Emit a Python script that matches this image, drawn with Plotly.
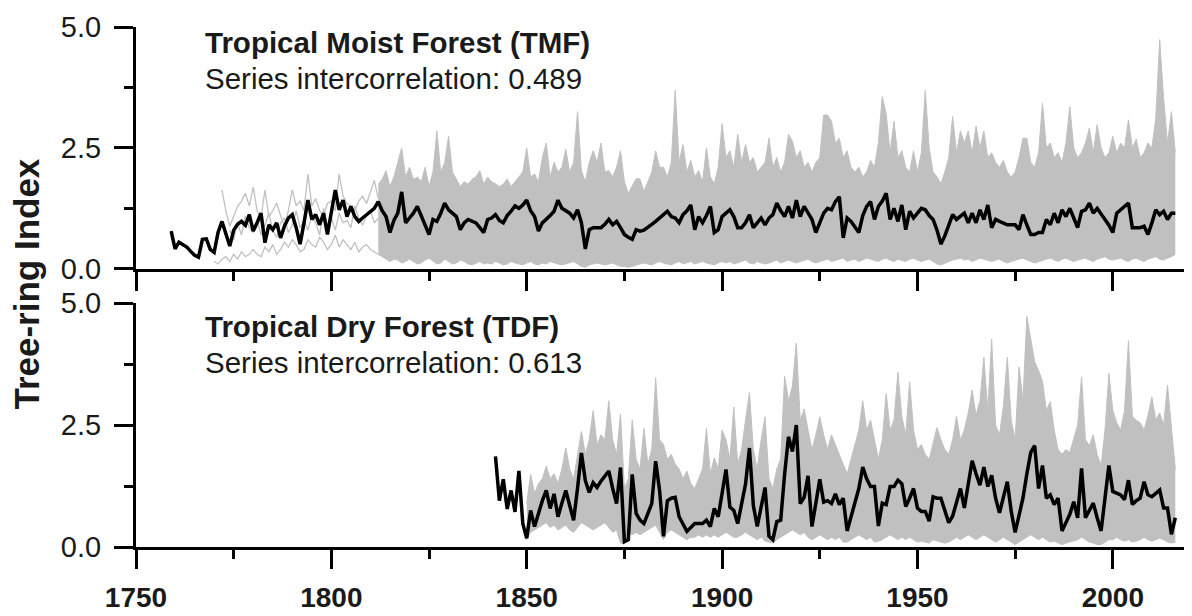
import plotly.graph_objects as go

# ---------------- data ----------------
# Tropical Moist Forest (TMF) mean chronology, annual from 1759
tmf_start = 1759
tmf_mean = [
    0.78,
    0.41, 0.55, 0.50, 0.45, 0.36, 0.28, 0.24, 0.61, 0.62, 0.40,
    0.34, 0.75, 0.98, 0.70, 0.47, 0.80, 0.92, 0.98, 0.90, 1.12,
    0.78, 0.95, 1.15, 0.54, 0.91, 0.81, 0.95, 0.64, 0.88, 1.05,
    1.12, 0.85, 0.51, 0.95, 1.42, 1.02, 1.12, 0.91, 1.15, 0.71,
    1.19, 1.63, 1.22, 1.42, 1.08, 1.29, 1.08, 0.98, 1.05, 1.12,
    1.20, 1.25, 1.39, 1.20, 1.08, 0.75, 1.00, 1.15, 1.59, 0.95,
    1.05, 1.15, 1.29, 1.08, 0.90, 0.71, 1.02, 0.98, 1.15, 1.36,
    1.22, 1.15, 1.08, 0.81, 0.95, 1.02, 0.98, 0.95, 0.85, 0.75,
    1.02, 1.05, 1.12, 1.00, 0.95, 1.10, 1.19, 1.30, 1.25, 1.32,
    1.42, 1.20, 1.08, 0.78, 0.95, 1.02, 1.10, 1.19, 1.42, 1.25,
    1.20, 1.15, 1.05, 1.22, 0.95, 0.41, 0.81, 0.85, 0.85, 0.85,
    0.92, 1.02, 0.91, 0.98, 0.85, 0.71, 0.65, 0.61, 0.81, 0.78,
    0.80, 0.85, 0.92, 0.98, 1.05, 1.12, 1.19, 1.08, 1.05, 0.95,
    1.12, 1.20, 1.32, 0.81, 1.08, 0.95, 1.10, 1.29, 0.75, 0.81,
    1.08, 1.15, 1.22, 1.08, 0.85, 0.85, 0.95, 1.12, 0.85, 0.95,
    1.05, 0.91, 1.05, 1.12, 1.36, 1.20, 1.08, 1.29, 1.05, 1.42,
    1.08, 1.29, 1.15, 1.02, 0.75, 0.95, 1.15, 1.25, 1.22, 1.39,
    1.49, 0.64, 1.05, 0.98, 0.85, 0.75, 1.10, 1.29, 1.39, 1.02,
    1.29, 1.40, 1.56, 1.02, 1.25, 0.98, 1.32, 0.81, 1.19, 1.05,
    1.15, 1.25, 1.22, 1.10, 1.02, 0.80, 0.51, 0.68, 0.90, 1.12,
    1.02, 1.08, 1.15, 0.95, 1.15, 0.95, 1.22, 1.02, 1.32, 0.85,
    1.02, 0.98, 0.95, 0.91, 0.91, 0.91, 0.81, 1.12, 0.91, 0.71,
    0.71, 0.75, 0.75, 1.02, 0.91, 1.15, 0.95, 1.22, 1.08, 1.25,
    1.05, 0.85, 1.19, 1.22, 1.36, 1.15, 1.25, 1.12, 1.02, 0.90,
    0.75, 1.15, 1.22, 1.30, 1.36, 0.85, 0.85, 0.85, 0.88, 0.71,
    0.95, 1.22, 1.12, 1.19, 1.02, 1.15, 1.15,
]

# TMF individual series: sparse early series
tmf_early_a_start = 1772
tmf_early_a = [
    1.63, 1.20, 0.88, 1.10, 1.29, 1.40, 1.56, 1.30, 1.69, 1.20,
    1.05, 1.63, 1.08, 1.20, 1.36, 1.10, 0.88, 1.20, 1.63, 1.30,
    1.40, 1.20, 1.96, 1.30, 1.45, 1.20, 1.10, 1.35, 1.40, 1.20,
    1.96, 1.50, 1.35, 1.30, 1.20, 1.40, 1.50, 1.35, 1.60, 1.83,
    1.45,
]
tmf_early_b_start = 1770
tmf_early_b = [
    0.15, 0.10, 0.20, 0.25, 0.15, 0.30, 0.20, 0.35, 0.25, 0.30,
    0.40, 0.30, 0.25, 0.45, 0.35, 0.50, 0.30, 0.40, 0.55, 0.45,
    0.60, 0.50, 0.35, 0.40, 0.60, 0.50, 0.45, 0.65, 0.55, 0.40,
    0.50, 0.70, 0.45, 0.60, 0.50, 0.40, 0.55, 0.35, 0.45, 0.50,
    0.40, 0.35, 0.30,
]
tmf_early_c_start = 1774
tmf_early_c = [
    0.80, 0.60, 0.95, 0.70, 1.10, 0.85, 0.75, 1.00, 0.70, 0.90,
    1.15, 0.80, 0.65, 0.95, 1.05, 0.75, 0.90, 1.20, 0.85, 1.00,
    0.80, 1.10, 0.95, 0.70, 1.25, 0.90, 1.05, 0.80, 1.15, 0.95,
    1.00, 0.85, 1.30, 1.05, 0.90, 1.10, 1.20, 0.95, 1.05,
]

# TMF envelope of the dense individual series, annual from 1812
tmf_band_start = 1812
tmf_low = [
    0.30, 0.25, 0.20, 0.15, 0.20, 0.18, 0.12, 0.15, 0.20, 0.15,
    0.10, 0.12, 0.18, 0.22, 0.15, 0.10, 0.12, 0.20, 0.15, 0.10,
    0.12, 0.18, 0.15, 0.10, 0.08, 0.12, 0.15, 0.10, 0.12,
    0.10, 0.15, 0.12, 0.08, 0.10, 0.15, 0.12, 0.10, 0.08, 0.12,
    0.15, 0.10, 0.08, 0.12, 0.10, 0.15, 0.12, 0.10, 0.08, 0.10,
    0.12, 0.15, 0.10, 0.05, 0.03, 0.08, 0.10, 0.12, 0.10, 0.08,
    0.10, 0.12, 0.08, 0.05, 0.05, 0.03, 0.05, 0.08, 0.10, 0.12,
    0.10, 0.08, 0.12, 0.15, 0.12, 0.10, 0.08, 0.12, 0.15, 0.10,
    0.12, 0.15, 0.10, 0.12, 0.15, 0.12, 0.10, 0.08, 0.12, 0.15,
    0.12, 0.15, 0.10, 0.12, 0.15, 0.18, 0.12, 0.10, 0.15, 0.12,
    0.10, 0.12, 0.15, 0.18, 0.12, 0.15, 0.18, 0.15, 0.12, 0.15,
    0.18, 0.20, 0.15, 0.12, 0.15, 0.18, 0.20, 0.15, 0.18, 0.20,
    0.22, 0.15, 0.18, 0.20, 0.15, 0.18, 0.22, 0.20, 0.18, 0.15,
    0.20, 0.22, 0.18, 0.15, 0.20, 0.18, 0.15, 0.20, 0.22, 0.18,
    0.15, 0.18, 0.20, 0.15, 0.10, 0.08, 0.12, 0.15, 0.18, 0.20,
    0.22, 0.18, 0.20, 0.15, 0.18, 0.22, 0.20, 0.18, 0.15, 0.18,
    0.20, 0.15, 0.12, 0.15, 0.18, 0.20, 0.22, 0.18, 0.15, 0.12,
    0.15, 0.18, 0.20, 0.22, 0.18, 0.15, 0.20, 0.22, 0.18, 0.15,
    0.18, 0.20, 0.22, 0.18, 0.15, 0.20, 0.22, 0.25, 0.20, 0.18,
    0.20, 0.22, 0.18, 0.15, 0.20, 0.22, 0.18, 0.15, 0.20, 0.22,
    0.25, 0.20, 0.18, 0.22, 0.25, 0.30,
]
tmf_high = [
    1.75, 1.85, 2.03, 1.70, 1.90, 2.20, 2.50, 1.90,
    2.10, 1.85, 1.90, 1.80, 2.10, 1.70, 2.00, 2.85, 2.00, 2.20,
    2.74, 2.00, 1.85, 1.70, 1.80, 1.75, 1.85, 1.90, 2.03, 1.75,
    1.90, 1.80, 1.76, 1.70, 1.75, 1.86, 1.70, 1.80, 1.90, 2.00,
    2.50, 1.90, 1.96, 1.80, 2.30, 2.60, 1.90, 2.20, 2.00, 2.10,
    2.47, 2.00, 2.20, 3.25, 2.03, 1.80, 2.20, 2.44, 2.20, 2.60,
    2.00, 2.03, 1.90, 2.10, 2.44, 1.80, 1.56, 1.70, 1.86, 1.86,
    1.60, 1.80, 2.00, 2.44, 2.10, 2.10, 1.90, 2.20, 3.69, 2.20,
    2.57, 2.00, 2.24, 1.90, 2.03, 1.80, 2.50, 1.90, 1.76, 2.10,
    3.00, 2.30, 2.44, 2.10, 2.78, 2.20, 2.57, 2.20, 2.30, 2.00,
    2.10, 2.20, 2.70, 2.10, 2.30, 2.00, 2.20, 2.78, 2.64, 2.30,
    2.44, 2.10, 2.20, 2.00, 2.20, 2.30, 3.18, 3.18, 3.05, 2.60,
    2.70, 2.30, 2.44, 2.10, 2.00, 2.10, 1.90, 2.00, 2.24, 2.10,
    2.60, 3.56, 3.20, 2.40, 3.05, 2.30, 2.44, 2.10, 2.00, 2.44,
    2.00, 2.40, 3.69, 2.50, 2.00, 1.90, 1.76, 2.00, 2.30, 3.15,
    2.40, 2.85, 2.60, 2.85, 2.40, 2.95, 2.50, 2.85, 2.30, 2.40,
    2.20, 2.10, 2.24, 2.00, 1.90, 2.00, 2.30, 2.70, 2.70, 2.20,
    2.10, 2.40, 3.42, 2.50, 2.60, 2.30, 2.40, 2.20, 2.60, 3.35,
    2.50, 2.30, 2.40, 2.60, 2.91, 2.40, 2.98, 2.50, 2.30, 2.40,
    2.74, 2.40, 2.60, 2.50, 3.08, 2.50, 2.68, 2.30, 2.40, 2.60,
    2.50, 3.12, 4.74, 3.52, 2.60, 3.25, 2.40,
]

# Tropical Dry Forest (TDF) mean chronology, annual from 1842
tdf_start = 1842
tdf_mean = [
    1.86, 0.95, 1.39, 0.78, 1.16, 0.72, 1.56, 0.48,
    0.18, 0.75, 0.42, 0.70, 0.95, 1.16, 0.79, 1.09, 0.62, 0.90,
    1.16, 0.85, 0.55, 1.20, 1.93, 1.36, 1.12, 1.32, 1.22, 1.35,
    1.45, 1.56, 1.20, 0.89, 1.63, 0.11, 0.15, 1.49, 0.69, 0.55,
    0.48, 0.70, 0.89, 1.76, 1.16, 0.22, 0.95, 1.00, 1.02, 0.62,
    0.45, 0.32, 0.40, 0.48, 0.48, 0.48, 0.55, 0.42, 0.79, 0.62,
    1.10, 1.59, 0.82, 0.75, 0.48, 0.90, 1.29, 2.03, 0.85, 0.42,
    0.80, 1.22, 0.22, 0.15, 0.52, 0.55, 1.49, 2.26, 1.96, 2.50,
    0.89, 1.02, 1.46, 0.42, 0.90, 1.39, 0.92, 0.95, 0.89, 1.09,
    0.87, 1.00, 0.33, 0.60, 0.87, 1.20, 1.64, 1.40, 1.24, 1.24,
    0.43, 0.90, 0.87, 1.24, 1.24, 1.37, 1.30, 0.83, 1.00, 1.20,
    0.80, 0.73, 0.73, 0.53, 1.03, 1.00, 1.00, 0.75, 0.50, 0.63,
    0.90, 1.20, 0.80, 1.34, 1.77, 1.50, 1.27, 1.64, 1.24, 1.47,
    1.00, 0.70, 1.03, 1.34, 0.73, 0.30, 0.65, 1.00, 1.50, 1.94,
    2.08, 1.20, 1.67, 1.00, 1.07, 0.87, 1.00, 0.33, 0.50, 0.67,
    0.93, 0.60, 1.61, 0.60, 0.75, 0.90, 0.60, 0.33, 1.00, 1.67,
    1.14, 1.10, 1.07, 0.97, 1.37, 0.87, 0.95, 1.00, 1.34, 1.07,
    1.03, 1.10, 1.17, 0.80, 0.80, 0.26, 0.60,
]

# TDF envelope of the individual series, annual from 1850
tdf_band_start = 1850
tdf_low = [
    0.15, 0.30, 0.35, 0.40, 0.45, 0.50, 0.40, 0.45, 0.35, 0.40,
    0.45, 0.35, 0.30, 0.40, 0.50, 0.45, 0.40, 0.35, 0.40, 0.45,
    0.50, 0.40, 0.30, 0.35, 0.08, 0.08, 0.30, 0.25, 0.30, 0.25,
    0.30, 0.35, 0.40, 0.45, 0.30, 0.15, 0.30, 0.35, 0.30, 0.25,
    0.20, 0.15, 0.20, 0.20, 0.25, 0.20, 0.25, 0.20, 0.25, 0.20,
    0.25, 0.30, 0.25, 0.20, 0.20, 0.25, 0.30, 0.25, 0.20, 0.15,
    0.20, 0.12, 0.10, 0.08, 0.15, 0.20, 0.25, 0.30, 0.35, 0.30,
    0.25, 0.30, 0.20, 0.15, 0.20, 0.25, 0.20, 0.15, 0.20, 0.15,
    0.20, 0.10, 0.10, 0.15, 0.20, 0.25, 0.20, 0.15, 0.20, 0.10,
    0.12, 0.15, 0.20, 0.25, 0.20, 0.15, 0.20, 0.15, 0.20, 0.15,
    0.10, 0.12, 0.10, 0.08, 0.15, 0.12, 0.10, 0.08, 0.10, 0.15,
    0.20, 0.15, 0.20, 0.25, 0.20, 0.15, 0.20, 0.25, 0.20, 0.15,
    0.10, 0.15, 0.20, 0.15, 0.10, 0.05, 0.10, 0.15, 0.20, 0.25,
    0.20, 0.15, 0.20, 0.15, 0.10, 0.12, 0.08, 0.05, 0.08, 0.10,
    0.12, 0.15, 0.20, 0.15, 0.10, 0.08, 0.05, 0.05, 0.10, 0.15,
    0.15, 0.20, 0.15, 0.12, 0.15, 0.10, 0.12, 0.15, 0.20, 0.15,
    0.12, 0.15, 0.18, 0.15, 0.10, 0.08, 0.10,
]
tdf_high = [
    0.90, 1.49, 1.10, 1.30, 1.40, 1.66, 1.40, 1.50, 1.30, 1.60,
    2.03, 1.60, 1.40, 1.90, 2.37, 1.90, 2.20, 2.80, 2.10, 2.30,
    2.20, 3.00, 2.20, 1.90, 2.73, 1.20, 1.40, 2.60, 1.80, 1.60,
    2.43, 1.70, 2.00, 3.47, 2.20, 2.10, 1.80, 1.90, 1.70, 1.60,
    1.40, 1.56, 1.30, 1.20, 1.40, 1.60, 2.43, 1.50, 1.83, 1.60,
    2.40, 2.20, 1.80, 2.87, 1.70, 2.00, 2.60, 3.17, 2.00, 1.60,
    2.20, 2.67, 1.40, 1.20, 1.60, 1.80, 3.50, 3.00, 3.30, 4.18,
    2.60, 2.83, 2.40, 2.00, 2.30, 2.67, 2.30, 2.00, 2.30, 2.10,
    1.94, 1.70, 1.50, 1.80, 2.10, 2.40, 3.00, 2.40, 2.60, 2.20,
    1.80, 2.20, 3.15, 2.40, 2.60, 3.59, 2.68, 2.30, 3.39, 2.40,
    2.00, 2.10, 1.90, 1.80, 2.14, 2.45, 2.20, 2.00, 1.90, 2.20,
    2.68, 2.20, 2.40, 2.75, 3.22, 2.70, 3.00, 3.89, 2.80, 4.26,
    2.50, 2.30, 2.90, 3.89, 2.60, 2.20, 3.69, 3.00, 4.73, 4.29,
    3.80, 3.62, 3.40, 2.80, 2.98, 2.40, 2.00, 1.90, 2.00, 1.94,
    2.20, 2.50, 3.49, 2.20, 2.08, 2.30, 1.90, 1.67, 2.40, 3.56,
    2.80, 2.55, 2.40, 2.80, 4.23, 2.68, 2.60, 2.55, 2.40, 2.70,
    3.08, 2.60, 2.75, 2.50, 3.32, 2.40, 1.60,
]

y_ticks = [0.0, 2.5, 5.0]
x_ticks = [1750, 1800, 1850, 1900, 1950, 2000]
tmf_title = "Tropical Moist Forest (TMF)"
tmf_corr = "Series intercorrelation: 0.489"
tdf_title = "Tropical Dry Forest (TDF)"
tdf_corr = "Series intercorrelation: 0.613"
y_title = "Tree-ring Index"


def years(start, vals):
    return list(range(start, start + len(vals)))


GREY = "rgb(192,192,192)"
FONT = "Liberation Sans, Arial, sans-serif"
TXT = "#1a1a1a"

fig = go.Figure()

# ---- top panel (TMF) on x2/y2 ----
for st, vals in [(tmf_early_b_start, tmf_early_b),
                 (tmf_early_c_start, tmf_early_c),
                 (tmf_early_a_start, tmf_early_a)]:
    fig.add_trace(go.Scatter(x=years(st, vals), y=vals, mode="lines",
                             line=dict(color=GREY, width=1.3),
                             xaxis="x2", yaxis="y2", hoverinfo="skip"))
fig.add_trace(go.Scatter(x=years(tmf_band_start, tmf_low), y=tmf_low, mode="lines",
                         line=dict(color=GREY, width=1),
                         xaxis="x2", yaxis="y2", hoverinfo="skip"))
fig.add_trace(go.Scatter(x=years(tmf_band_start, tmf_high), y=tmf_high, mode="lines",
                         line=dict(color=GREY, width=1), fill="tonexty", fillcolor=GREY,
                         xaxis="x2", yaxis="y2", hoverinfo="skip"))
fig.add_trace(go.Scatter(x=years(tmf_start, tmf_mean), y=tmf_mean, mode="lines",
                         line=dict(color="black", width=3.5),
                         xaxis="x2", yaxis="y2"))

# ---- bottom panel (TDF) on x/y ----
fig.add_trace(go.Scatter(x=years(tdf_band_start, tdf_low), y=tdf_low, mode="lines",
                         line=dict(color=GREY, width=1),
                         xaxis="x", yaxis="y", hoverinfo="skip"))
fig.add_trace(go.Scatter(x=years(tdf_band_start, tdf_high), y=tdf_high, mode="lines",
                         line=dict(color=GREY, width=1), fill="tonexty", fillcolor=GREY,
                         xaxis="x", yaxis="y", hoverinfo="skip"))
fig.add_trace(go.Scatter(x=years(tdf_start, tdf_mean), y=tdf_mean, mode="lines",
                         line=dict(color="black", width=3.5),
                         xaxis="x", yaxis="y"))

xaxis_common = dict(
    range=[1750, 2019.5], tickvals=x_ticks, showgrid=False, zeroline=False,
    showline=True, linecolor="black", linewidth=3,
    ticks="outside", ticklen=19, tickwidth=3, tickcolor="black",
    minor=dict(ticks="outside", ticklen=9, tickwidth=3, tickcolor="black", dtick=25, tick0=1750),
)
yaxis_common = dict(
    range=[0, 5], tickvals=y_ticks, tickformat=".1f", showgrid=False, zeroline=False,
    showline=True, linecolor="black", linewidth=3,
    ticks="outside", ticklen=19, tickwidth=3, tickcolor="black",
    minor=dict(ticks="outside", ticklen=9, tickwidth=3, tickcolor="black", dtick=1.25, tick0=0),
    tickfont=dict(family=FONT, size=29, color=TXT), ticklabelstandoff=7,
)

# the page body adds an 8 px offset, so the figure is sized to fit the window
fig.update_layout(
    width=1184, height=608,
    margin=dict(l=128, r=3, t=16, b=63),
    paper_bgcolor="white", plot_bgcolor="white",
    showlegend=False,
    font=dict(family=FONT, color=TXT),
    xaxis=dict(domain=[0, 1], anchor="y",
               tickfont=dict(family=FONT, size=28, color=TXT, weight="bold"),
               ticklabelstandoff=4, **xaxis_common),
    xaxis2=dict(domain=[0, 1], anchor="y2", matches="x", showticklabels=False,
                **xaxis_common),
    yaxis=dict(domain=[0, 0.4688], anchor="x", **yaxis_common),
    yaxis2=dict(domain=[0.535, 1], anchor="x2", **yaxis_common),
)

ann_font_b = dict(family=FONT, size=29.5, color=TXT, weight="bold")
ann_font = dict(family=FONT, size=29.5, color=TXT)
fig.add_annotation(x=1767.1, y=4.685, xref="x2", yref="y2", text=tmf_title,
                   showarrow=False, xanchor="left", yanchor="middle", font=ann_font_b)
fig.add_annotation(x=1767.1, y=3.94, xref="x2", yref="y2", text=tmf_corr,
                   showarrow=False, xanchor="left", yanchor="middle", font=ann_font)
fig.add_annotation(x=1767.1, y=4.53, xref="x", yref="y", text=tdf_title,
                   showarrow=False, xanchor="left", yanchor="middle", font=ann_font_b)
fig.add_annotation(x=1767.1, y=3.79, xref="x", yref="y", text=tdf_corr,
                   showarrow=False, xanchor="left", yanchor="middle", font=ann_font)
fig.add_annotation(x=-0.1035, y=0.5047, xref="paper", yref="paper", text=y_title,
                   textangle=-90, showarrow=False, xanchor="center", yanchor="middle",
                   font=dict(family=FONT, size=35, color=TXT, weight="bold"))

fig.write_html("out.html")
